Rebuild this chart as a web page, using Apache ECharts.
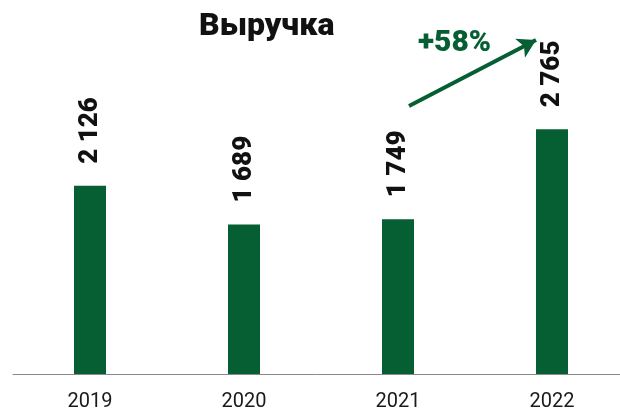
<!doctype html>
<html lang="ru">
<head>
    <meta charset="UTF-8">
    <title>Выручка</title>
    <script src="https://cdn.jsdelivr.net/npm/echarts@6/dist/echarts.min.js"></script>
    <style>
        html, body { margin: 0; padding: 0; background: #fff; }
        #chart { width: 620px; height: 411px; }
    </style>
</head>
<body>
<div id="chart"></div>
<script type="text/javascript">
    // данные
    var years = ['2019', '2020', '2021', '2022'];
    var revenue = [2126, 1689, 1749, 2765];
    var growthLabel = '+58%';

    var green = '#065e33';

    // 2 126 -> пробел как разделитель тысяч
    var fmt = function (v) {
        return String(v).replace(/\B(?=(\d{3})+(?!\d))/g, ' ');
    };

    var myChart = echarts.init(document.getElementById('chart'));
    var option = {
        animation: false,
        title: {
            text: 'Выручка',
            left: 194,
            top: 6,
            textStyle: { fontFamily: 'Roboto', fontSize: 32, fontWeight: 900, color: '#111' }
        },
        grid: { left: 13, width: 616, top: 20, bottom: 37, outerBoundsMode: 'none' },
        xAxis: {
            type: 'category',
            data: years,
            axisLine: { lineStyle: { color: '#8a8a8a', width: 1 } },
            axisTick: { show: false },
            axisLabel: { margin: 18, fontFamily: 'Roboto', fontSize: 20, color: '#1a1a1a' }
        },
        yAxis: {
            type: 'value',
            min: 0,
            max: 4000,
            show: false,
            splitLine: { show: false }
        },
        graphic: [{
            type: 'text',
            left: 418,
            top: 28,
            style: {
                text: growthLabel,
                fill: green,
                font: '900 30px Roboto'
            }
        }],
        series: [{
            type: 'bar',
            data: revenue,
            barWidth: 32,
            itemStyle: { color: green },
            label: {
                show: true,
                position: 'top',
                rotate: 90,
                align: 'left',
                verticalAlign: 'middle',
                distance: 22,
                fontFamily: 'Roboto',
                fontSize: 26,
                fontWeight: 900,
                color: '#111',
                formatter: function (p) { return fmt(p.value); }
            },
            markLine: {
                silent: true,
                symbol: ['none', 'arrow'],
                symbolSize: [16, 18],
                label: { show: false },
                lineStyle: { color: green, width: 4, type: 'solid' },
                data: [[{ x: 409, y: 106 }, { x: 536, y: 40 }]]
            }
        }]
    };
    myChart.setOption(option);
</script>
</body>
</html>
